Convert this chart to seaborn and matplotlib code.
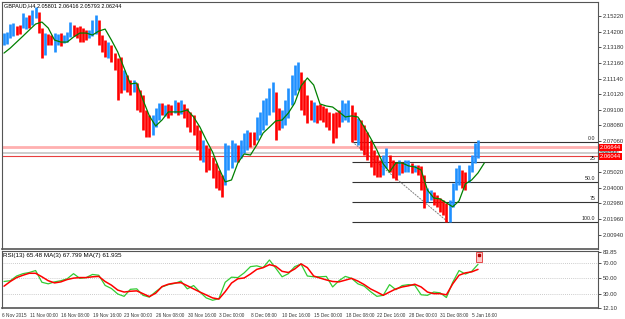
import numpy as np
import pandas as pd
import seaborn as sns
import matplotlib
matplotlib.use("Agg")
import matplotlib.pyplot as plt
from matplotlib import transforms
from matplotlib.patches import Rectangle

# ---------------------------------------------------------------------------
# data (one entry ~ two H4 bars)
# ---------------------------------------------------------------------------
BAR_HIGH = [
    2.1412, 2.1419, 2.1471, 2.1478, 2.1458, 2.1465, 2.1543, 2.1517, 2.1530, 2.1563,
    2.1582, 2.1550, 2.1445, 2.1412, 2.1406, 2.1399, 2.1412, 2.1406, 2.1412, 2.1399,
    2.1419, 2.1484, 2.1465, 2.1452, 2.1458, 2.1445, 2.1432, 2.1432, 2.1497, 2.1530,
    2.1497, 2.1399, 2.1366, 2.1353, 2.1334, 2.1281, 2.1249, 2.1255, 2.1170, 2.1137,
    2.1105, 2.1105, 2.1085, 2.1039, 2.1007, 2.0909, 2.0876, 2.0876, 2.0922, 2.0954,
    2.0954, 2.0941, 2.0948, 2.0941, 2.0974, 2.0961, 2.0974, 2.0948, 2.0922, 2.0896,
    2.0876, 2.0811, 2.0778, 2.0712, 2.0680, 2.0660, 2.0601, 2.0562, 2.0516, 2.0484,
    2.0693, 2.0680, 2.0712, 2.0693, 2.0680, 2.0712, 2.0758, 2.0778, 2.0765, 2.0765,
    2.0863, 2.0896, 2.0974, 2.0987, 2.1052, 2.1092, 2.1026, 2.0922, 2.0909, 2.0974,
    2.1052, 2.1137, 2.1203, 2.1223, 2.1157, 2.1105, 2.1007, 2.0974, 2.0961, 2.0941,
    2.0948, 2.0935, 2.0922, 2.0896, 2.0889, 2.0896, 2.0909, 2.0974, 2.0954, 2.0974,
    2.0941, 2.0896, 2.0857, 2.0843, 2.0811, 2.0765, 2.0712, 2.0647, 2.0614, 2.0582,
    2.0614, 2.0660, 2.0614, 2.0582, 2.0569, 2.0582, 2.0569, 2.0582, 2.0582, 2.0562,
    2.0549, 2.0549, 2.0543, 2.0484, 2.0399, 2.0385, 2.0372, 2.0353, 2.0333, 2.0320,
    2.0301, 2.0320, 2.0431, 2.0529, 2.0549, 2.0516, 2.0503, 2.0549, 2.0614, 2.0693, 2.0712,
]
BAR_LOW = [
    2.1334, 2.1340, 2.1380, 2.1392, 2.1399, 2.1406, 2.1445, 2.1438, 2.1445, 2.1465,
    2.1510, 2.1412, 2.1249, 2.1268, 2.1334, 2.1334, 2.1288, 2.1334, 2.1327, 2.1347,
    2.1353, 2.1386, 2.1392, 2.1380, 2.1353, 2.1353, 2.1366, 2.1380, 2.1392, 2.1406,
    2.1334, 2.1288, 2.1255, 2.1249, 2.1223, 2.1170, 2.0974, 2.1020, 2.1039, 2.1026,
    2.1007, 2.1026, 2.0909, 2.0896, 2.0778, 2.0732, 2.0732, 2.0745, 2.0797, 2.0843,
    2.0876, 2.0870, 2.0857, 2.0876, 2.0889, 2.0876, 2.0883, 2.0857, 2.0797, 2.0765,
    2.0745, 2.0647, 2.0582, 2.0569, 2.0503, 2.0516, 2.0464, 2.0399, 2.0385, 2.0340,
    2.0418, 2.0516, 2.0529, 2.0569, 2.0569, 2.0595, 2.0627, 2.0647, 2.0667, 2.0680,
    2.0712, 2.0745, 2.0778, 2.0811, 2.0876, 2.0896, 2.0712, 2.0778, 2.0791, 2.0811,
    2.0856, 2.0941, 2.1007, 2.1039, 2.0909, 2.0876, 2.0824, 2.0843, 2.0830, 2.0824,
    2.0843, 2.0830, 2.0797, 2.0778, 2.0693, 2.0725, 2.0797, 2.0830, 2.0843, 2.0830,
    2.0699, 2.0712, 2.0680, 2.0647, 2.0614, 2.0582, 2.0536, 2.0484, 2.0471, 2.0471,
    2.0484, 2.0529, 2.0503, 2.0464, 2.0451, 2.0484, 2.0497, 2.0503, 2.0503, 2.0497,
    2.0503, 2.0484, 2.0385, 2.0268, 2.0307, 2.0320, 2.0288, 2.0275, 2.0242, 2.0222,
    2.0176, 2.0176, 2.0275, 2.0385, 2.0418, 2.0399, 2.0385, 2.0438, 2.0503, 2.0562, 2.0595,
]
# B = bull bar (blue), R = bear bar (red)
BAR_DIR = ("BBBBRRBBRB" "BRRBRRBBRB" "BBRRRRRBBB" "RRRBRRRRBR" "RBRRRRRBBB"
           "RBRRBRBRRR" "RRRBRRRRRR" "BBBBRBBBRR" "BBBBBBRRBB" "BBBBRRRRBR"
           "RRRRRRRBBB" "RRBRRRRRRR" "BBRRRBRBBR" "BRRRBBRRRR" "RBBBBRRBBBB")

# moving average on price, sampled every second bar (0, 2, ..., 152)
MA_PRICE = [
    2.1281, 2.1314, 2.1353, 2.1392, 2.1432, 2.1471, 2.1484, 2.1445, 2.1366, 2.1353,
    2.1353, 2.1386, 2.1412, 2.1412, 2.1399, 2.1425, 2.1438, 2.1366, 2.1288, 2.1183,
    2.1079, 2.1085, 2.0974, 2.0870, 2.0804, 2.0843, 2.0896, 2.0896, 2.0896, 2.0909,
    2.0863, 2.0797, 2.0712, 2.0634, 2.0529, 2.0438, 2.0451, 2.0562, 2.0621, 2.0614,
    2.0680, 2.0758, 2.0797, 2.0837, 2.0843, 2.0889, 2.0954, 2.1066, 2.1118, 2.1072,
    2.0948, 2.0935, 2.0928, 2.0896, 2.0863, 2.0870, 2.0863, 2.0797, 2.0725, 2.0647,
    2.0556, 2.0503, 2.0562, 2.0562, 2.0543, 2.0536, 2.0516, 2.0385, 2.0333, 2.0327,
    2.0301, 2.0275, 2.0314, 2.0425, 2.0451, 2.0497, 2.0562,
]

# RSI and its moving average, sampled every second bar (0, 2, ..., 150)
RSI = [
    46, 47, 53, 56, 57.5, 60, 45, 43, 45.5, 47,
    49.5, 56, 50, 51, 55, 54, 41, 37, 30, 27,
    36, 36.6, 28.3, 26, 33, 39, 42, 43.5, 46.5, 36.6,
    40.8, 32.5, 25, 22, 24, 45, 51.5, 51, 57, 65,
    66, 63.7, 73.5, 63, 52, 56, 65, 68.3, 53, 52,
    52, 52.5, 39, 47, 52.5, 50, 43, 40, 33, 27,
    28.3, 42, 35.5, 40.8, 42, 41, 29, 28.3, 32.5, 31.5,
    25.5, 45, 60, 55.5, 59, 67.9,
]
RSI_MA = [
    40, 46, 51, 54, 56.5, 56.5, 52, 47, 44.2, 45.5,
    48.5, 50.3, 51, 51, 52, 52.5, 46, 41.3, 35, 32.5,
    33.5, 34, 30.4, 26.7, 31, 39.5, 42.5, 44, 44.5, 40.6,
    36.5, 32.5, 28.8, 25, 23.5, 33, 44, 49.5, 50.5, 55.6,
    61.5, 63.7, 67.5, 65.5, 59, 57.5, 62, 68.5, 63.7, 53,
    50.4, 48, 46, 45.5, 47.7, 50, 46.5, 42, 36.5, 32.5,
    28.3, 32.5, 36.5, 39, 40.5, 42.5, 39, 32.5, 30.4, 30.4,
    29, 43, 54, 57, 58.3, 61.5,
]

PRICE_TICKS = [2.15220, 2.14200, 2.13180, 2.12160, 2.11140, 2.10120, 2.09100,
               2.08080, 2.07060, 2.05020, 2.04000, 2.02980, 2.01960, 2.00940]
RSI_TICKS = [83.85, 70.00, 50.00, 30.00, 12.10]
DATE_LABELS = ["6 Nov 2015", "11 Nov 00:00", "16 Nov 08:00", "19 Nov 16:00",
               "23 Nov 00:00", "26 Nov 08:00", "30 Nov 16:00", "3 Dec 00:00",
               "8 Dec 08:00", "10 Dec 16:00", "15 Dec 00:00", "18 Dec 08:00",
               "22 Dec 16:00", "28 Dec 00:00", "31 Dec 08:00", "5 Jan 16:00"]

FIB_HIGH, FIB_LOW = 2.0701, 2.0176
FIB_LEVELS = [0.0, 25, 50.0, 75, 100.0]
FIB_NAMES = ["0.0", "25", "50.0", "75", "100.0"]
FIB_START, FIB_END = 110.2, 140.5

LEVEL_PINK, LEVEL_BID, LEVEL_RED = 2.06644, 2.06244, 2.06044

HEADER = "GBPAUD,H4 2.05801 2.06416 2.05793 2.06244"
RSI_HEADER = "RSI(13) 65.48 MA(3) 67.799 MA(7) 61.935"

BLUE = "#1E90FF"
RED = "#FF0000"
FRAME = "#555555"
FS = 4.2
NARROW = ["Liberation Sans Narrow", "Liberation Sans", "DejaVu Sans"]

# ---------------------------------------------------------------------------
sns.set_style("white")
plt.rcParams["font.family"] = ["Liberation Sans", "DejaVu Sans"]

fig = plt.figure(figsize=(6.25, 3.19), dpi=100)
ax = fig.add_axes([0.0032, 0.2179, 0.9536, 0.7743])
ax_rsi = fig.add_axes([0.0032, 0.0345, 0.9536, 0.1787], sharex=ax)

n = len(BAR_HIGH)
idx = np.arange(n)
bars = pd.DataFrame({"i": idx, "High": BAR_HIGH, "Low": BAR_LOW,
                     "Dir": list(BAR_DIR)})
x_lim = (-0.63, 187.97)

# horizontal price lines (behind bars)
ax.axhline(LEVEL_PINK, color="#FFB0B0", lw=2.0, zorder=1)
ax.axhline(LEVEL_BID, color="#C0C0C0", lw=1.1, zorder=1)
ax.axhline(LEVEL_RED, color="#E84040", lw=0.8, zorder=1)

# fibonacci retracement
fib_prices = [FIB_HIGH - (FIB_HIGH - FIB_LOW) * lv / 100 for lv in FIB_LEVELS]
for price, name in zip(fib_prices, FIB_NAMES):
    ax.hlines(price, FIB_START, x_lim[1], color="#333333", lw=0.8, zorder=1)
    ax.text(x_lim[1] - 0.8, price + 0.0004, name, ha="right", va="bottom",
            fontsize=3.8, color="#222222", family=NARROW)
ax.plot([FIB_START, FIB_END], [FIB_HIGH, FIB_LOW], color="#808080", lw=0.7,
        ls=(0, (2, 1)), zorder=1)

# bars
for d, col in (("B", BLUE), ("R", RED)):
    sub = bars[bars["Dir"] == d]
    ax.vlines(sub["i"], sub["Low"], sub["High"], colors=col, lw=1.9, zorder=2)

ma = pd.DataFrame({"i": np.arange(len(MA_PRICE)) * 2, "MA": MA_PRICE})
sns.lineplot(data=ma, x="i", y="MA", ax=ax, color="#008000", lw=0.9, zorder=3)

ax.set_xlim(*x_lim)
ax.set_ylim(1.9996, 2.1612)
ax.yaxis.tick_right()
ax.set_yticks(PRICE_TICKS)
ax.set_yticklabels([f"{t:.5f}" for t in PRICE_TICKS])
ax.tick_params(axis="y", direction="out", length=2.5, width=0.6, pad=1,
               labelsize=FS, colors="#333333")
ax.tick_params(axis="x", bottom=False, labelbottom=False)
ax.set_xlabel("")
ax.set_ylabel("")
ax.text(0.004, 0.997, HEADER, transform=ax.transAxes, ha="left", va="top",
        fontsize=4.0, color="black", family=NARROW)

# right-side price tags: the bid tag sits behind the two red ones
tr = transforms.blended_transform_factory(ax.transAxes, ax.transData)
for price, fc, tc, fs, z in ((LEVEL_BID, "#C8C8C8", "#333333", 3.6, 4),
                             (LEVEL_PINK, RED, "white", FS, 5),
                             (LEVEL_RED, RED, "white", FS, 5)):
    ax.text(1.003, price, f"{price:.5f}", transform=tr, ha="left", va="center",
            fontsize=fs, color=tc, clip_on=False, zorder=z,
            bbox=dict(boxstyle="square,pad=0.12", fc=fc, ec="none"))

# RSI panel
for lv in (70, 50, 30):
    ax_rsi.axhline(lv, color="#BBBBBB", lw=0.6, ls=(0, (1, 1.5)), zorder=1)
rsi = pd.DataFrame({"i": np.arange(len(RSI)) * 2, "RSI": RSI, "MA": RSI_MA})
sns.lineplot(data=rsi, x="i", y="RSI", ax=ax_rsi, color="#33CC33", lw=0.9, zorder=3)
sns.lineplot(data=rsi, x="i", y="MA", ax=ax_rsi, color=RED, lw=1.1, zorder=4)
ax_rsi.add_patch(Rectangle((149.3, 71.0), 2.0, 12.5, fc="#FFC8C8", ec="#E03030",
                           lw=0.6, zorder=5))
ax_rsi.plot([150.3], [80.5], marker="s", ms=1.6, color="#B00000", zorder=6)
ax_rsi.text(0.002, 0.97, RSI_HEADER, transform=ax_rsi.transAxes, ha="left",
            va="top", fontsize=4.5, color="black", family=NARROW)

ax_rsi.set_ylim(12.1, 85.0)
ax_rsi.yaxis.tick_right()
ax_rsi.set_yticks(RSI_TICKS)
ax_rsi.set_yticklabels([f"{t:.2f}" for t in RSI_TICKS])
date_pos = [x_lim[0]] + [8.1 + 10 * k for k in range(len(DATE_LABELS) - 1)]
ax_rsi.set_xticks(date_pos)
ax_rsi.set_xticklabels(DATE_LABELS)
for lbl in ax_rsi.get_xticklabels():
    lbl.set_ha("left")
    lbl.set_family(NARROW)
    lbl.set_fontsize(3.4)
ax_rsi.tick_params(axis="both", direction="out", length=2.5, width=0.6, pad=1,
                   colors="#333333")
ax_rsi.tick_params(axis="y", labelsize=FS)
ax_rsi.set_xlabel("")
ax_rsi.set_ylabel("")
ax_rsi.set_xlim(*x_lim)

for a in (ax, ax_rsi):
    for s in a.spines.values():
        s.set_color(FRAME)
        s.set_linewidth(0.8)
    a.spines["bottom"].set_linewidth(1.2)

fig.savefig("out.png", dpi=100)
